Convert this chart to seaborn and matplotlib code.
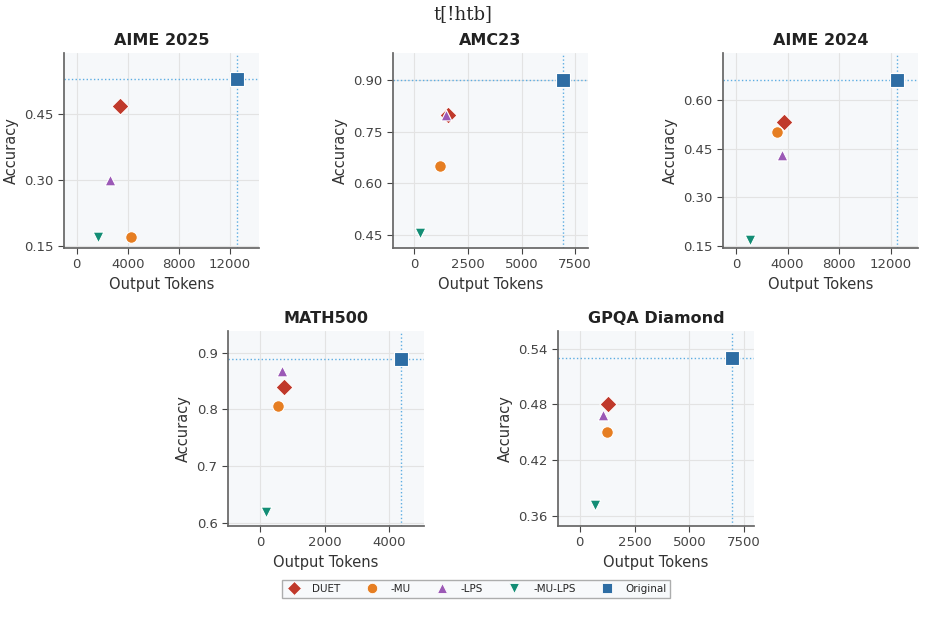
import pandas as pd
import matplotlib.pyplot as plt
import seaborn as sns

methods = ["DUET", "-MU", "-LPS", "-MU-LPS", "Original"]
benchmarks = ["AIME 2025", "AMC23", "AIME 2024", "MATH500", "GPQA Diamond"]

# output tokens per benchmark, in the order of methods
tokens = {
    "AIME 2025": [3400, 4250, 2600, 1650, 12600],
    "AMC23": [1550, 1200, 1450, 280, 6950],
    "AIME 2024": [3700, 3150, 3600, 1080, 12450],
    "MATH500": [750, 550, 680, 190, 4360],
    "GPQA Diamond": [1290, 1230, 1065, 700, 6930],
}
accuracy = {
    "AIME 2025": [0.47, 0.17, 0.30, 0.17, 0.53],
    "AMC23": [0.80, 0.65, 0.80, 0.455, 0.90],
    "AIME 2024": [0.53, 0.50, 0.43, 0.17, 0.66],
    "MATH500": [0.84, 0.806, 0.867, 0.619, 0.889],
    "GPQA Diamond": [0.48, 0.45, 0.469, 0.372, 0.53],
}

colors = {"DUET": "#c0392b", "-MU": "#e67e22", "-LPS": "#9b59b6",
          "-MU-LPS": "#138d75", "Original": "#2e6da4"}
markers = {"DUET": "D", "-MU": "o", "-LPS": "^", "-MU-LPS": "v", "Original": "s"}
sizes = {"DUET": 75, "-MU": 70, "-LPS": 60, "-MU-LPS": 60, "Original": 110}

# axis settings
xlims = {"AIME 2025": (-1000, 14300), "AMC23": (-1000, 8100), "AIME 2024": (-1000, 14100),
         "MATH500": (-1000, 5080), "GPQA Diamond": (-990, 7950)}
ylims = {"AIME 2025": (0.145, 0.59), "AMC23": (0.412, 0.98), "AIME 2024": (0.145, 0.743),
         "MATH500": (0.595, 0.938), "GPQA Diamond": (0.349, 0.559)}
xticks = {"AIME 2025": [0, 4000, 8000, 12000], "AMC23": [0, 2500, 5000, 7500],
          "AIME 2024": [0, 4000, 8000, 12000], "MATH500": [0, 2000, 4000],
          "GPQA Diamond": [0, 2500, 5000, 7500]}
yticks = {"AIME 2025": [0.15, 0.30, 0.45], "AMC23": [0.45, 0.60, 0.75, 0.90],
          "AIME 2024": [0.15, 0.30, 0.45, 0.60], "MATH500": [0.6, 0.7, 0.8, 0.9],
          "GPQA Diamond": [0.36, 0.42, 0.48, 0.54]}
yfmt = {"AIME 2025": "{:.2f}", "AMC23": "{:.2f}", "AIME 2024": "{:.2f}",
        "MATH500": "{:.1f}", "GPQA Diamond": "{:.2f}"}

# axes rectangles in pixels: left, top, right, bottom
W, H = 925, 629
boxes = {
    "AIME 2025": (64, 53, 259, 248),
    "AMC23": (393, 53, 588, 248),
    "AIME 2024": (723, 53, 918, 248),
    "MATH500": (228, 331, 424, 526),
    "GPQA Diamond": (558, 331, 754, 526),
}

sns.set_theme(style="ticks")
plt.rcParams["axes.edgecolor"] = "#666666"
plt.rcParams["xtick.color"] = "#444444"
plt.rcParams["ytick.color"] = "#444444"

fig = plt.figure(figsize=(W / 100, H / 100), dpi=100)
fig.text(0.5, 1 - 14 / H, "t[!htb]", ha="center", va="center",
         family="DejaVu Serif", fontsize=13)

for b in benchmarks:
    l, t, r, bt = boxes[b]
    ax = fig.add_axes([l / W, 1 - bt / H, (r - l) / W, (bt - t) / H])
    ax.set_facecolor("#f6f8fa")
    ax.grid(True, color="#e3e3e3", linewidth=0.8)
    ax.set_axisbelow(True)
    df = pd.DataFrame({"Output Tokens": tokens[b], "Accuracy": accuracy[b], "Method": methods})
    orig_x = df.loc[df.Method == "Original", "Output Tokens"].iloc[0]
    orig_y = df.loc[df.Method == "Original", "Accuracy"].iloc[0]
    ax.axvline(orig_x, color="#5dade2", linestyle=":", linewidth=1, zorder=1)
    ax.axhline(orig_y, color="#5dade2", linestyle=":", linewidth=1, zorder=1)
    for m in methods:
        sub = df[df.Method == m]
        sns.scatterplot(data=sub, x="Output Tokens", y="Accuracy", ax=ax,
                        color=colors[m], marker=markers[m], s=sizes[m],
                        edgecolor="white", linewidth=0.8, zorder=3, label=m, legend=False)
    ax.set_xlim(*xlims[b])
    ax.set_ylim(*ylims[b])
    ax.set_xticks(xticks[b])
    ax.set_yticks(yticks[b])
    ax.set_yticklabels([yfmt[b].format(v) for v in yticks[b]])
    ax.tick_params(labelsize=9.5, length=4, width=0.8)
    ax.set_xlabel("Output Tokens", fontsize=10.5, color="#333333")
    ax.set_ylabel("Accuracy", fontsize=10.5, color="#333333")
    ax.set_title(b, fontsize=11.5, fontweight="bold", color="#222222")
    sns.despine(ax=ax)

handles = [plt.Line2D([], [], linestyle="", marker=markers[m], color=colors[m],
                      markersize=7.5, markeredgecolor="white", markeredgewidth=0.6)
           for m in methods]
leg = fig.legend(handles, methods, loc="center", bbox_to_anchor=(476 / W, 1 - 589 / H),
                 ncol=5, fontsize=7.5, frameon=True, fancybox=False,
                 columnspacing=2.2, handletextpad=1.0, handlelength=1.6, borderpad=0.35)
leg.get_frame().set_edgecolor("#999999")
leg.get_frame().set_facecolor("#f6f8fa")

plt.savefig("out.png", dpi=100)
